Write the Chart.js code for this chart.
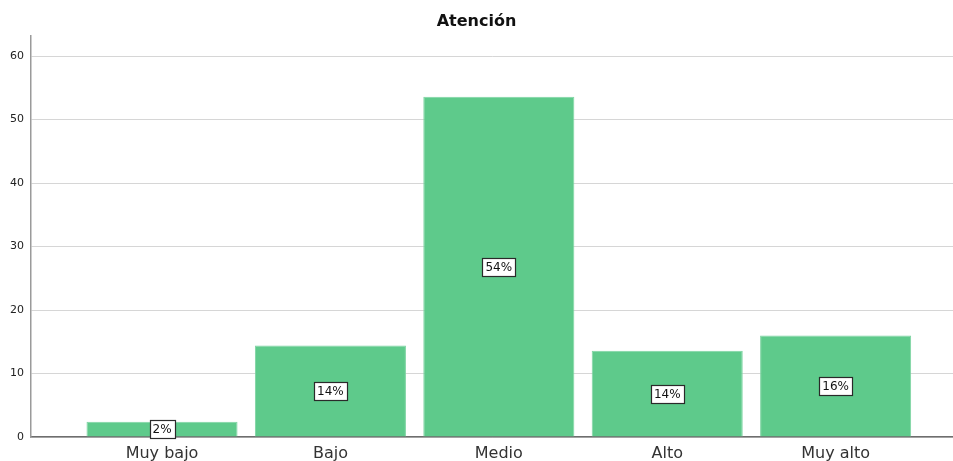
<!DOCTYPE html>
<html>
<head>
<meta charset="utf-8">
<script src="https://cdn.jsdelivr.net/npm/chart.js@4.4.0/dist/chart.umd.min.js"></script>
<style>
  html, body { margin: 0; padding: 0; background: #fff; }
  #wrap { position: relative; width: 953px; height: 461px; }
</style>
</head>
<body>
<div id="wrap"><canvas id="chart"></canvas></div>
<script>
const categories = ['Muy bajo', 'Bajo', 'Medio', 'Alto', 'Muy alto'];
const percents = [2.4, 14.4, 53.6, 13.6, 16.0];
const pctLabels = ['2%', '14%', '54%', '14%', '16%'];
const yTicks = [0, 10, 20, 30, 40, 50, 60];

const FONT = "'DejaVu Sans', Verdana, sans-serif";

// white boxed % labels in the middle of every bar
const boxLabels = {
  id: 'boxLabels',
  afterDatasetsDraw(chart) {
    const ctx = chart.ctx;
    const meta = chart.getDatasetMeta(0);
    ctx.save();
    ctx.font = '12px ' + FONT;
    ctx.textAlign = 'center';
    ctx.textBaseline = 'middle';
    meta.data.forEach((bar, i) => {
      const txt = pctLabels[i];
      const cy = (bar.y + bar.base) / 2;
      const w = Math.round(ctx.measureText(txt).width) + 6;
      const h = 18;
      const x0 = Math.round(bar.x - w / 2) + 0.5;
      const y0 = Math.round(cy - h / 2) + 0.5;
      ctx.fillStyle = '#ffffff';
      ctx.fillRect(x0, y0, w, h);
      ctx.strokeStyle = '#2a2a2a';
      ctx.lineWidth = 1.2;
      ctx.strokeRect(x0, y0, w, h);
      ctx.fillStyle = '#111111';
      ctx.fillText(txt, bar.x, cy + 1);
    });
    ctx.restore();
  }
};

new Chart(document.getElementById('chart'), {
  type: 'bar',
  data: {
    datasets: [{
      data: percents.map((v, i) => ({ x: i, y: v })),
      backgroundColor: '#5eca8b',
      borderColor: '#7dd4a2',
      borderWidth: 1,
      borderSkipped: 'bottom',
      categoryPercentage: 1,
      barPercentage: 0.897
    }]
  },
  options: {
    responsive: true,
    maintainAspectRatio: false,
    animation: false,
    layout: { padding: 0 },
    plugins: {
      legend: { display: false },
      tooltip: { enabled: false },
      title: {
        display: true,
        text: 'Atención',
        color: '#111',
        font: { family: FONT, size: 16, weight: 'bold' },
        padding: { top: 12, bottom: 4.8 }
      }
    },
    scales: {
      x: {
        type: 'linear',
        min: -0.778,
        max: 4.697,
        offset: false,
        grid: { display: false, drawTicks: false },
        border: { color: '#6e6e6e', width: 1.5 },
        afterFit: s => { s.height = 24; },
        afterBuildTicks: s => { s.ticks = categories.map((c, i) => ({ value: i })); },
        ticks: {
          autoSkip: false,
          maxRotation: 0,
          padding: 7,
          color: '#333',
          font: { family: FONT, size: 16 },
          callback: v => categories[v]
        }
      },
      y: {
        min: 0,
        max: 63.15,
        grid: { color: '#d6d6d6', lineWidth: 1, drawTicks: false },
        border: { color: '#9a9a9a', width: 1.5 },
        afterFit: s => { s.width = 31; },
        afterBuildTicks: s => { s.ticks = yTicks.map(v => ({ value: v })); },
        ticks: {
          padding: 7,
          color: '#222',
          font: { family: FONT, size: 11 }
        }
      }
    }
  },
  plugins: [boxLabels]
});
</script>
</body>
</html>
